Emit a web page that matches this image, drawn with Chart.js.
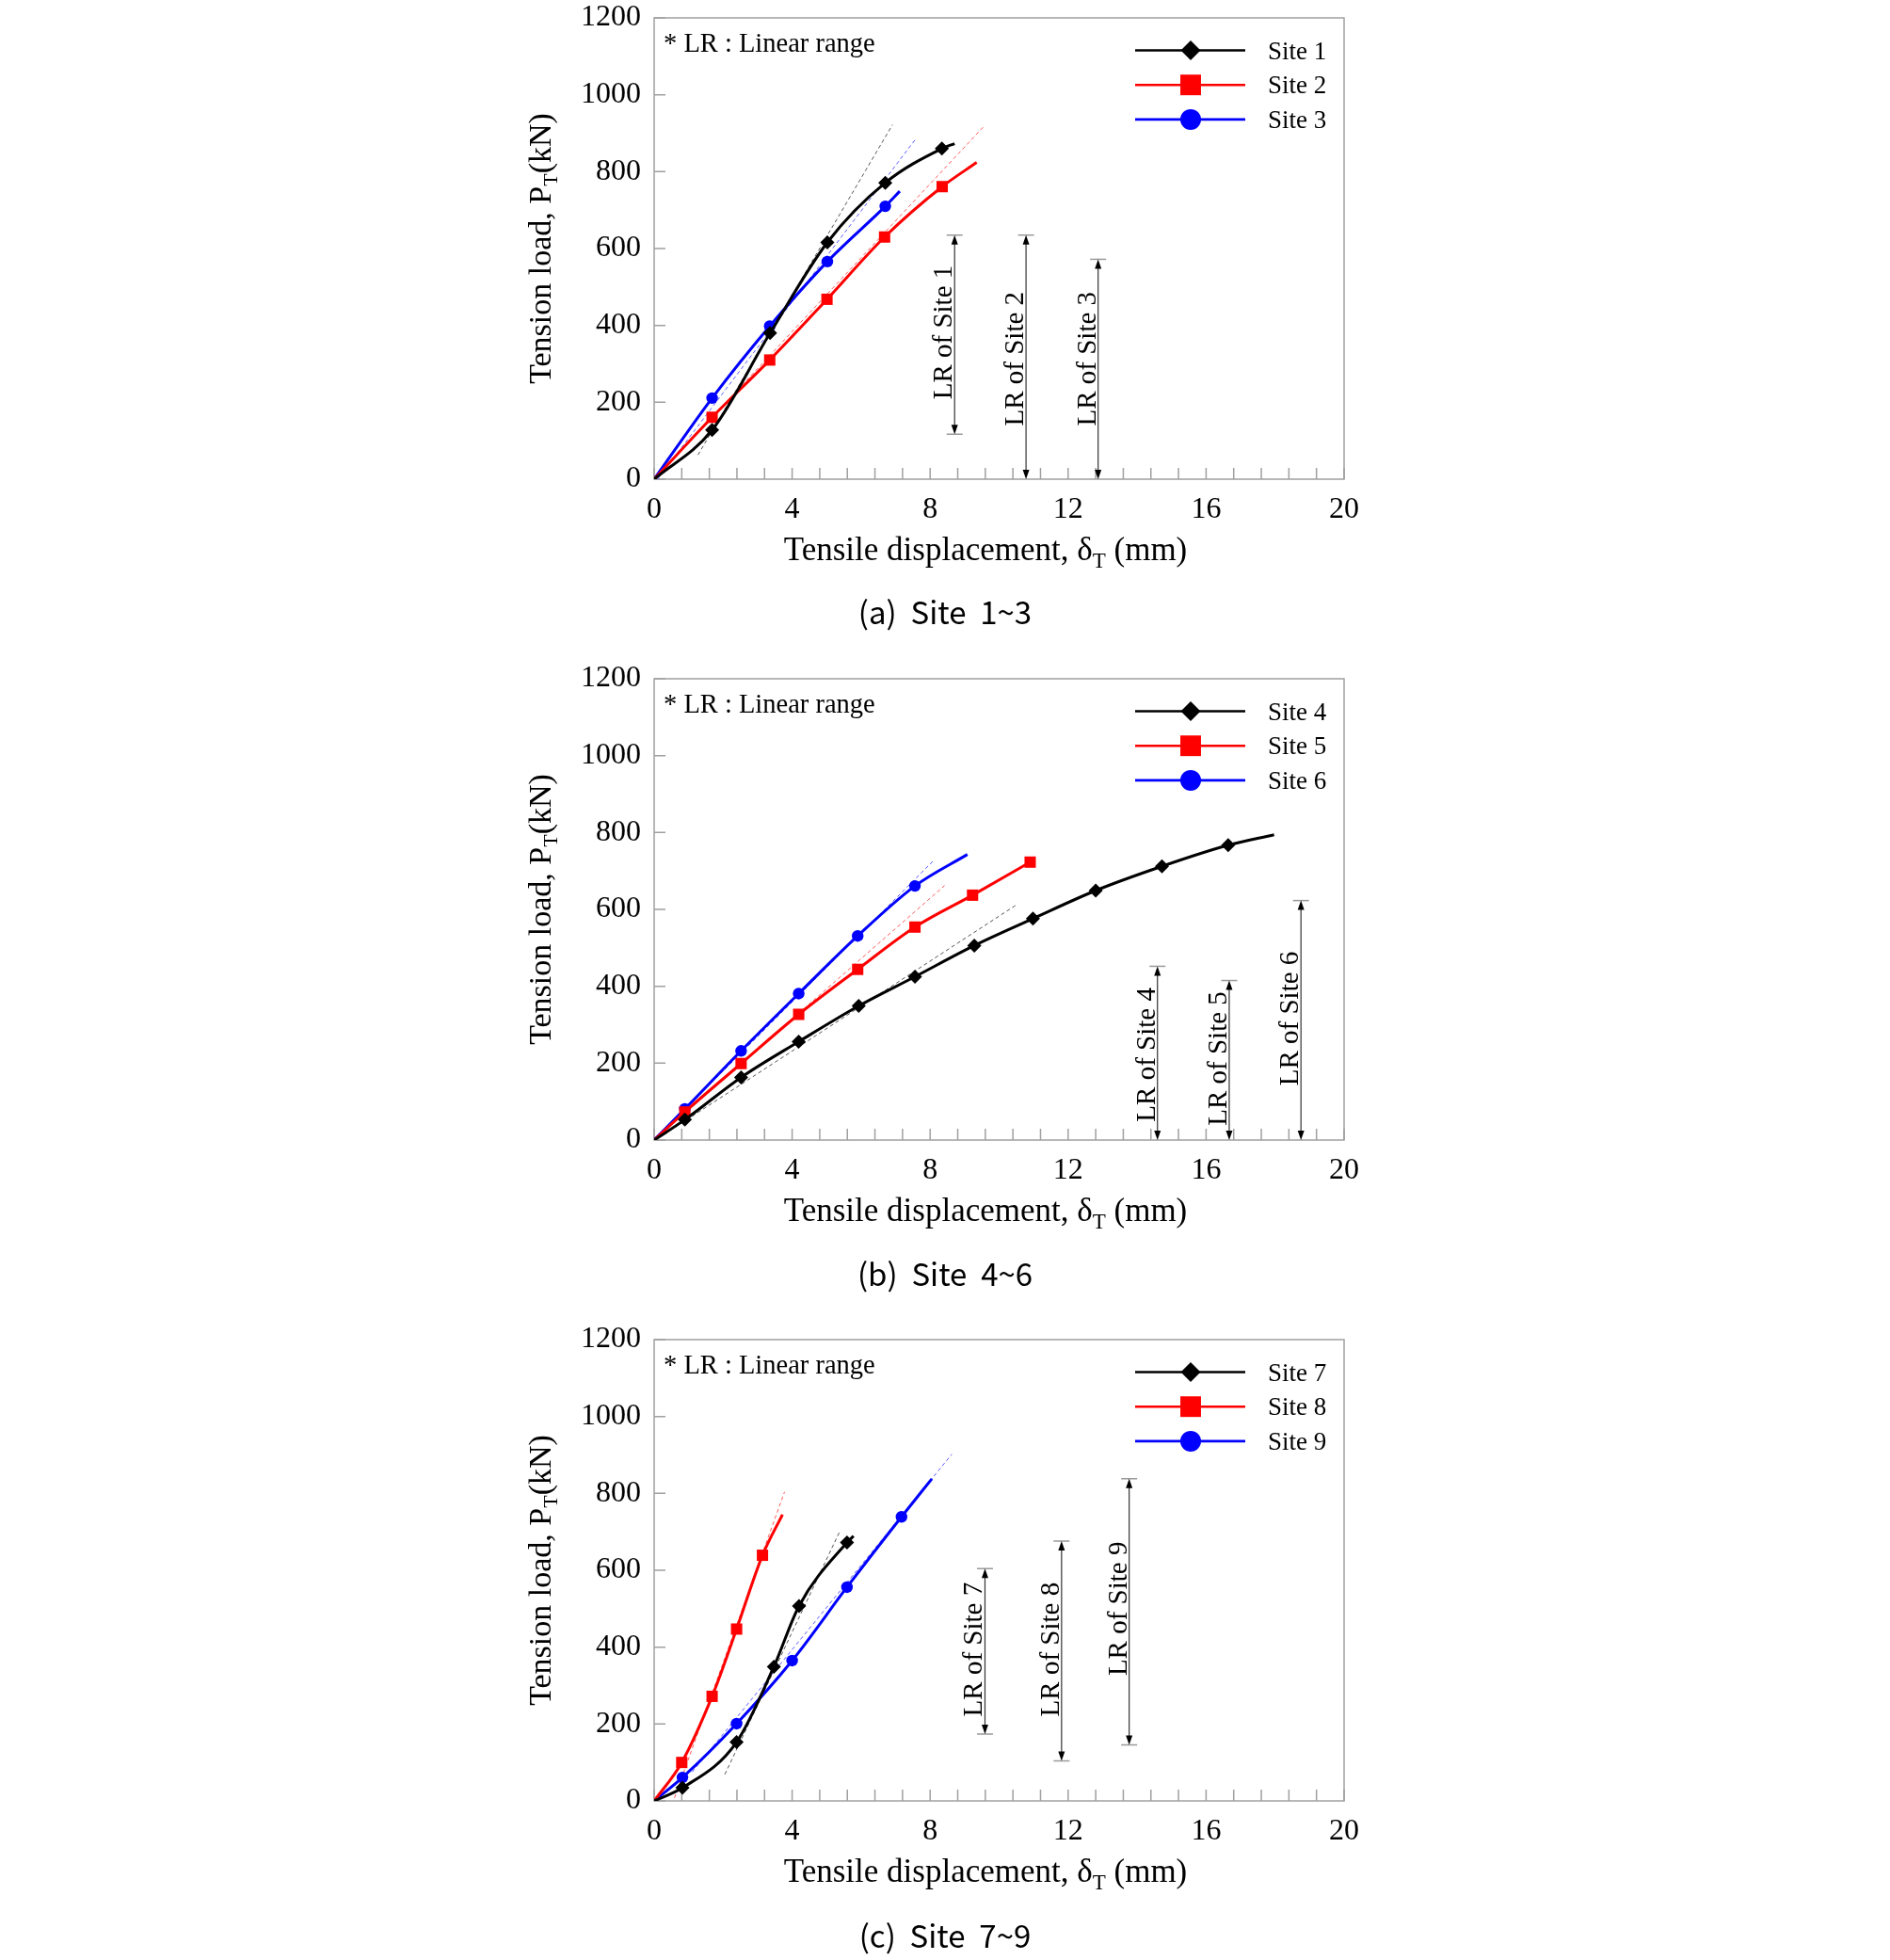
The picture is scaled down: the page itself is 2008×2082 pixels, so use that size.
<!DOCTYPE html>
<html>
<head>
<meta charset="utf-8">
<script src="https://cdn.jsdelivr.net/npm/chart.js@4.4.1/dist/chart.umd.min.js"></script>
<style>
  html, body { margin: 0; padding: 0; background: #fff; overflow: hidden; }
  body { width: 2008px; height: 2082px; position: relative; }
  .panel { position: absolute; left: 0; width: 2008px; height: 640px; }
  .caption {
    position: absolute; left: 0; width: 2008px; text-align: center;
    font-family: "Noto Sans CJK KR", "Noto Sans", sans-serif;
    font-size: 33px; line-height: 33px; white-space: pre; color: #000;
  }
</style>
</head>
<body>
<div class="panel" style="top:0px"><canvas id="chartA" width="2008" height="640"></canvas></div>
<div class="caption" style="top:633px">(a)  Site  1~3</div>
<div class="panel" style="top:702px"><canvas id="chartB" width="2008" height="640"></canvas></div>
<div class="caption" style="top:1336px">(b)  Site  4~6</div>
<div class="panel" style="top:1404px"><canvas id="chartC" width="2008" height="640"></canvas></div>
<div class="caption" style="top:2039px">(c)  Site  7~9</div>
<script>
const SERIF = "'Liberation Serif', 'Times New Roman', serif";
const X_LABELS = [0, 4, 8, 12, 16, 20];
const Y_TICKS = [0, 200, 400, 600, 800, 1000, 1200];
const NOTE = "* LR : Linear range";

// (a) Site 1~3
const siteNamesA = ["Site 1", "Site 2", "Site 3"];
const site1X = [0, 1.68, 3.36, 5.02, 6.70, 8.34, 8.71];
const site1Y = [0, 128, 380, 616, 771, 860, 873];
const site1Mark = [0, 1, 1, 1, 1, 1, 0];
const site2X = [0, 1.68, 3.35, 5.01, 6.68, 8.35, 9.35];
const site2Y = [0, 161, 310, 468, 630, 761, 824];
const site2Mark = [0, 1, 1, 1, 1, 1, 0];
const site3X = [0, 1.68, 3.35, 5.02, 6.70, 7.12];
const site3Y = [0, 211, 398, 566, 710, 749];
const site3Mark = [0, 1, 1, 1, 1, 0];
const fit1X = [1.27, 6.91], fit1Y = [63, 922];
const fit2X = [0.2, 9.56], fit2Y = [19, 918];
const fit3X = [0.1, 7.59], fit3Y = [0, 886];
const lrAX = [8.71, 10.78, 12.87];
const lrALow = [117, 0, 0];
const lrAHigh = [635, 635, 572];
const lrALabelAt = [382, 313, 313];

// (b) Site 4~6
const siteNamesB = ["Site 4", "Site 5", "Site 6"];
const site4X = [0, 0.89, 2.52, 4.19, 5.93, 7.56, 9.28, 10.98, 12.80, 14.72, 16.64, 17.97];
const site4Y = [0, 53, 163, 256, 349, 425, 506, 576, 649, 712, 767, 794];
const site4Mark = [0, 1, 1, 1, 1, 1, 1, 1, 1, 1, 1, 0];
const site5X = [0, 0.89, 2.52, 4.19, 5.90, 7.56, 9.23, 10.90];
const site5Y = [0, 73, 199, 327, 444, 554, 637, 723];
const site5Mark = [0, 1, 1, 1, 1, 1, 1, 1];
const site6X = [0, 0.89, 2.52, 4.19, 5.90, 7.56, 9.08];
const site6Y = [0, 81, 232, 381, 531, 661, 743];
const site6Mark = [0, 1, 1, 1, 1, 1, 0];
const fit4X = [0.3, 10.47], fit4Y = [15, 610];
const fit5X = [0.3, 8.42], fit5Y = [24, 662];
const fit6X = [0.3, 8.10], fit6Y = [27, 727];
const lrBX = [14.59, 16.67, 18.75];
const lrBLow = [0, 0, 0];
const lrBHigh = [452, 415, 623];
const lrBLabelAt = [222, 212, 316];

// (c) Site 7~9
const siteNamesC = ["Site 7", "Site 8", "Site 9"];
const site7X = [0, 0.82, 2.39, 3.47, 4.20, 5.59, 5.78];
const site7Y = [0, 34, 153, 349, 507, 672, 689];
const site7Mark = [0, 1, 1, 1, 1, 1, 0];
const site8X = [0, 0.80, 1.68, 2.39, 3.14, 3.72];
const site8Y = [0, 100, 272, 447, 639, 745];
const site8Mark = [0, 1, 1, 1, 1, 0];
const site9X = [0, 0.82, 2.39, 4.00, 5.59, 7.17, 8.05];
const site9Y = [0, 61, 201, 365, 556, 739, 838];
const site9Mark = [0, 1, 1, 1, 1, 1, 0];
const fit7X = [2.05, 5.39], fit7Y = [69, 703];
const fit8X = [0.59, 3.78], fit8Y = [8, 804];
const fit9X = [1.1, 8.63], fit9Y = [75, 902];
const lrCX = [9.59, 11.81, 13.77];
const lrCLow = [174, 104, 146];
const lrCHigh = [604, 676, 838];
const lrCLabelAt = [394, 394, 500];

const COLORS = ["#000000", "#ff0000", "#0000ff"];
const FIT_COLORS = ["#555555", "#ff5a5a", "#5a5aff"];
const MARKERS = ["rectRot", "rect", "circle"];
const MARK_R = [7.5, 8.5, 6.2];
const LEGEND_R = [10.5, 15.5, 11];

function toPoints(xs, ys) {
  return xs.map((x, i) => ({ x: x, y: ys[i] }));
}

function siteSet(name, xs, ys, mark, k) {
  return {
    label: name,
    data: toPoints(xs, ys),
    showLine: true,
    borderColor: COLORS[k],
    backgroundColor: COLORS[k],
    borderWidth: 3,
    pointStyle: MARKERS[k],
    pointRadius: mark.map((m) => (m ? MARK_R[k] : 0)),
    pointBorderWidth: 0,
    pointHoverRadius: 0,
    cubicInterpolationMode: "monotone",
    isSite: true,
    siteIndex: k,
  };
}

function fitSet(xs, ys, k) {
  return {
    label: "",
    data: toPoints(xs, ys),
    showLine: true,
    borderColor: FIT_COLORS[k],
    borderWidth: 1,
    borderDash: [4, 3],
    pointRadius: 0,
    pointHoverRadius: 0,
    tension: 0,
  };
}

function drawParts(ctx, parts, x, y, size) {
  // parts: [text, subscript, text]
  const subSize = Math.round(size * 0.66);
  ctx.font = size + "px " + SERIF;
  const w0 = ctx.measureText(parts[0]).width;
  const w2 = ctx.measureText(parts[2]).width;
  ctx.font = subSize + "px " + SERIF;
  const w1 = ctx.measureText(parts[1]).width;
  let cx = x - (w0 + w1 + w2) / 2;
  ctx.textAlign = "left";
  ctx.textBaseline = "alphabetic";
  ctx.font = size + "px " + SERIF;
  ctx.fillText(parts[0], cx, y);
  cx += w0;
  ctx.font = subSize + "px " + SERIF;
  ctx.fillText(parts[1], cx, y + size * 0.22);
  cx += w1;
  ctx.font = size + "px " + SERIF;
  ctx.fillText(parts[2], cx, y);
}

const framePlugin = {
  id: "frame",
  beforeDatasetsDraw(chart) {
    const { ctx, chartArea: a, scales } = chart;
    ctx.save();
    ctx.strokeStyle = "#a0a0a0";
    ctx.lineWidth = 1.5;
    ctx.strokeRect(a.left, a.top, a.right - a.left, a.bottom - a.top);
    ctx.beginPath();
    scales.x.ticks.forEach((t) => {
      const px = scales.x.getPixelForValue(t.value);
      ctx.moveTo(px, a.bottom);
      ctx.lineTo(px, a.bottom - 12);
    });
    Y_TICKS.forEach((v) => {
      const py = scales.y.getPixelForValue(v);
      ctx.moveTo(a.left, py);
      ctx.lineTo(a.left + 12, py);
    });
    ctx.stroke();
    // y tick labels
    ctx.fillStyle = "#000";
    ctx.font = "32px " + SERIF;
    ctx.textAlign = "right";
    ctx.textBaseline = "middle";
    Y_TICKS.forEach((v) => {
      ctx.fillText(String(v), a.left - 14, scales.y.getPixelForValue(v));
    });
    ctx.restore();
  },
};

const textPlugin = {
  id: "texts",
  afterDraw(chart) {
    const { ctx, chartArea: a } = chart;
    ctx.save();
    ctx.fillStyle = "#000";
    // axis titles
    drawParts(ctx, ["Tensile displacement, \u03b4", "T", " (mm)"], 1047, a.bottom + 86, 35);
    ctx.save();
    ctx.translate(a.left - 110, (a.top + a.bottom) / 2);
    ctx.rotate(-Math.PI / 2);
    drawParts(ctx, ["Tension load, P", "T", "(kN)"], 0, 0, 34);
    ctx.restore();
    // note
    ctx.font = "28.5px " + SERIF;
    ctx.textAlign = "left";
    ctx.textBaseline = "alphabetic";
    ctx.fillText(NOTE, a.left + 10, a.top + 36);
    // legend
    const sites = chart.data.datasets.filter((d) => d.isSite);
    sites.forEach((d, i) => {
      const y = a.top + 34.5 + i * 36.7;
      ctx.strokeStyle = d.borderColor;
      ctx.lineWidth = 2.6;
      ctx.beginPath();
      ctx.moveTo(a.right - 222, y);
      ctx.lineTo(a.right - 105, y);
      ctx.stroke();
      ctx.fillStyle = d.borderColor;
      Chart.helpers.drawPoint(ctx, { pointStyle: d.pointStyle, radius: LEGEND_R[d.siteIndex], borderWidth: 0, rotation: 0 }, a.right - 163, y);
      ctx.fillStyle = "#000";
      ctx.font = "27px " + SERIF;
      ctx.fillText(d.label, a.right - 81, y + 9);
    });
    ctx.restore();
  },
};

const lrPlugin = {
  id: "lrBars",
  afterDatasetsDraw(chart, args, opts) {
    const { ctx, scales } = chart;
    const xs = scales.x, ys = scales.y;
    ctx.save();
    opts.at.forEach((xv, i) => {
      const px = xs.getPixelForValue(xv);
      const pLow = ys.getPixelForValue(opts.low[i]);
      const pHigh = ys.getPixelForValue(opts.high[i]);
      // caps
      ctx.strokeStyle = "#9a9a9a";
      ctx.lineWidth = 1.5;
      ctx.beginPath();
      ctx.moveTo(px - 8.5, pHigh);
      ctx.lineTo(px + 8.5, pHigh);
      if (opts.low[i] > 0) {
        ctx.moveTo(px - 8.5, pLow);
        ctx.lineTo(px + 8.5, pLow);
      }
      ctx.stroke();
      // shaft
      ctx.strokeStyle = "#333";
      ctx.lineWidth = 1.2;
      ctx.beginPath();
      ctx.moveTo(px, pHigh + 4);
      ctx.lineTo(px, pLow - 4);
      ctx.stroke();
      // arrow heads
      ctx.fillStyle = "#000";
      ctx.beginPath();
      ctx.moveTo(px, pHigh);
      ctx.lineTo(px - 3.5, pHigh + 10);
      ctx.lineTo(px + 3.5, pHigh + 10);
      ctx.closePath();
      ctx.moveTo(px, pLow);
      ctx.lineTo(px - 3.5, pLow - 10);
      ctx.lineTo(px + 3.5, pLow - 10);
      ctx.closePath();
      ctx.fill();
      // label
      ctx.save();
      ctx.translate(px - 3, ys.getPixelForValue(opts.labelAt[i]));
      ctx.rotate(-Math.PI / 2);
      ctx.font = "29px " + SERIF;
      ctx.textAlign = "center";
      ctx.textBaseline = "alphabetic";
      ctx.fillText(opts.names[i], 0, 0);
      ctx.restore();
    });
    ctx.restore();
  },
};

function makePanel(id, names, sites, fits, lr) {
  const datasets = sites
    .map((s, k) => siteSet(names[k], s[0], s[1], s[2], k))
    .concat(fits.map((f, k) => fitSet(f[0], f[1], k)));
  return new Chart(document.getElementById(id), {
    type: "scatter",
    data: { datasets: datasets },
    options: {
      responsive: false,
      animation: false,
      events: [],
      layout: { padding: { left: 545, right: 580, top: 19, bottom: 71 } },
      plugins: {
        legend: { display: false },
        tooltip: { enabled: false },
        lrBars: {
          at: lr[0],
          low: lr[1],
          high: lr[2],
          labelAt: lr[3],
          names: names.map((n) => "LR of " + n),
        },
      },
      scales: {
        x: {
          type: "linear",
          min: 0,
          max: 20,
          grid: { display: false, drawTicks: false },
          border: { display: false },
          afterFit: (s) => { s.height = 60; },
          ticks: {
            stepSize: 0.8,
            maxTicksLimit: 40,
            autoSkip: false,
            maxRotation: 0,
            padding: 13,
            color: "#000",
            font: { family: SERIF, size: 32 },
            callback: (v) => {
              const hit = X_LABELS.find((l) => Math.abs(l - v) < 1e-6);
              return hit === undefined ? "" : String(hit);
            },
          },
        },
        y: {
          type: "linear",
          min: Y_TICKS[0],
          max: Y_TICKS[Y_TICKS.length - 1],
          grid: { display: false, drawTicks: false },
          border: { display: false },
          afterFit: (s) => { s.width = 150; },
          ticks: { display: false, stepSize: Y_TICKS[1] - Y_TICKS[0] },
        },
      },
    },
    plugins: [framePlugin, lrPlugin, textPlugin],
  });
}

window.onload = function () {
  makePanel("chartA", siteNamesA,
    [[site1X, site1Y, site1Mark], [site2X, site2Y, site2Mark], [site3X, site3Y, site3Mark]],
    [[fit1X, fit1Y], [fit2X, fit2Y], [fit3X, fit3Y]],
    [lrAX, lrALow, lrAHigh, lrALabelAt]);
  makePanel("chartB", siteNamesB,
    [[site4X, site4Y, site4Mark], [site5X, site5Y, site5Mark], [site6X, site6Y, site6Mark]],
    [[fit4X, fit4Y], [fit5X, fit5Y], [fit6X, fit6Y]],
    [lrBX, lrBLow, lrBHigh, lrBLabelAt]);
  makePanel("chartC", siteNamesC,
    [[site7X, site7Y, site7Mark], [site8X, site8Y, site8Mark], [site9X, site9Y, site9Mark]],
    [[fit7X, fit7Y], [fit8X, fit8Y], [fit9X, fit9Y]],
    [lrCX, lrCLow, lrCHigh, lrCLabelAt]);
};
</script>
</body>
</html>
